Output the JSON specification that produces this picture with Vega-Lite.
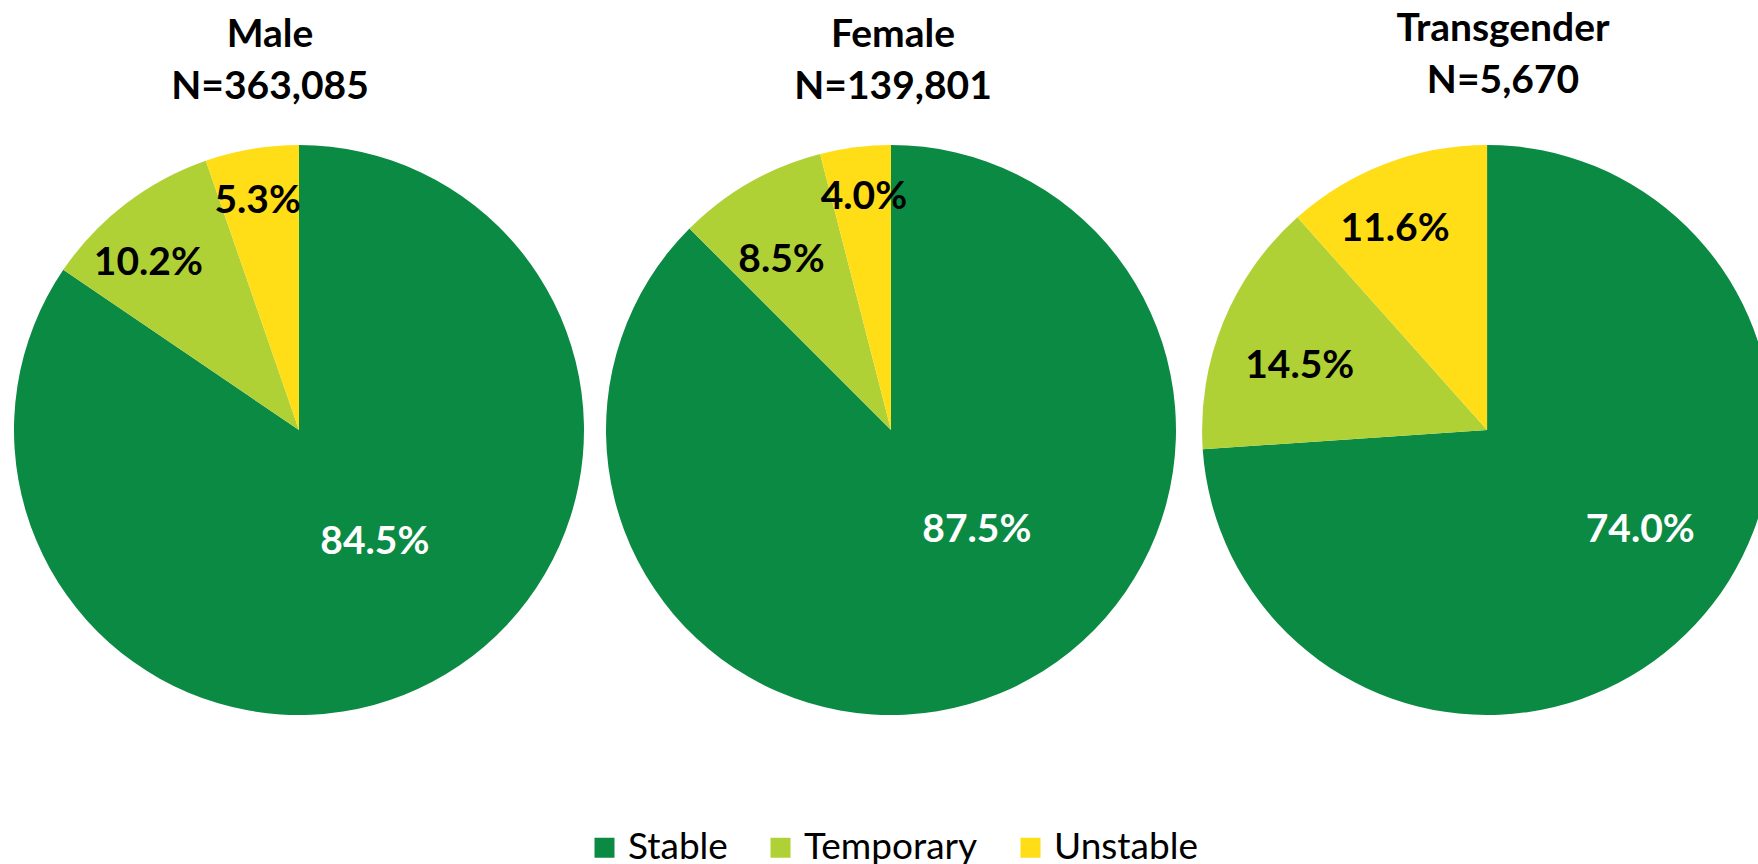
{
  "$schema": "https://vega.github.io/schema/vega-lite/v6.json",
  "background": "white",
  "padding": {"top": 10, "left": 0, "right": 0, "bottom": 0},
  "data": {"values": [
    {"gender": "Male", "status": "Stable", "share": 0.845},
    {"gender": "Male", "status": "Temporary", "share": 0.102},
    {"gender": "Male", "status": "Unstable", "share": 0.053},
    {"gender": "Female", "status": "Stable", "share": 0.875},
    {"gender": "Female", "status": "Temporary", "share": 0.085},
    {"gender": "Female", "status": "Unstable", "share": 0.040},
    {"gender": "Transgender", "status": "Stable", "share": 0.740},
    {"gender": "Transgender", "status": "Temporary", "share": 0.145},
    {"gender": "Transgender", "status": "Unstable", "share": 0.116}
  ]},
  "spacing": 0,
  "resolve": {"scale": {"color": "shared"}},
  "hconcat": [
    {
      "width": 598, "height": 570,
      "title": {"text": ["Male", "N=363,085"], "dx": -29},
      "transform": [{"filter": "datum.gender === 'Male'"}],
      "encoding": {
        "theta": {"field": "share", "type": "quantitative", "stack": true},
        "order": {"field": "status", "type": "ordinal", "sort": "ascending"}
      },
      "layer": [
        {"mark": {"type": "arc", "outerRadius": 285},
         "encoding": {"color": {"field": "status", "type": "nominal",
           "scale": {"domain": ["Stable", "Temporary", "Unstable"], "range": ["#0B8A44", "#B0D136", "#FFDD17"]},
           "legend": {"orient": "none", "legendX": 586, "legendY": 684, "direction": "horizontal", "title": null, "symbolType": "square", "symbolSize": 400, "symbolStrokeWidth": 0, "labelFontSize": 37, "labelFont": "Lato", "labelColor": "black", "labelOffset": 5, "columnPadding": 34, "labelLimit": 0}}}},
        {"mark": {"type": "text", "radius": 135, "thetaOffset": -0.11, "color": "white"},
         "encoding": {"detail": {"field": "status"}, "text": {"condition": {"test": "datum.status === 'Stable'", "field": "share", "type": "quantitative", "format": ".1%"}, "value": ""}}},
        {"mark": {"type": "text", "radius": 225, "thetaOffset": -0.08, "color": "black"},
         "encoding": {"detail": {"field": "status"}, "text": {"condition": {"test": "datum.status === 'Temporary'", "field": "share", "type": "quantitative", "format": ".1%"}, "value": ""}}},
        {"mark": {"type": "text", "radius": 233, "thetaOffset": -0.012, "color": "black"},
         "encoding": {"detail": {"field": "status"}, "text": {"condition": {"test": "datum.status === 'Unstable'", "field": "share", "type": "quantitative", "format": ".1%"}, "value": ""}}}
      ]
    },
    {
      "width": 586, "height": 570,
      "title": {"text": ["Female", "N=139,801"], "dx": 2},
      "transform": [{"filter": "datum.gender === 'Female'"}],
      "encoding": {
        "theta": {"field": "share", "type": "quantitative", "stack": true},
        "order": {"field": "status", "type": "ordinal", "sort": "ascending"}
      },
      "layer": [
        {"mark": {"type": "arc", "outerRadius": 285},
         "encoding": {"color": {"field": "status", "type": "nominal"}}},
        {"mark": {"type": "text", "radius": 132, "thetaOffset": -0.316, "color": "white"},
         "encoding": {"detail": {"field": "status"}, "text": {"condition": {"test": "datum.status === 'Stable'", "field": "share", "type": "quantitative", "format": ".1%"}, "value": ""}}},
        {"mark": {"type": "text", "radius": 202, "thetaOffset": -0.054, "color": "black"},
         "encoding": {"detail": {"field": "status"}, "text": {"condition": {"test": "datum.status === 'Temporary'", "field": "share", "type": "quantitative", "format": ".1%"}, "value": ""}}},
        {"mark": {"type": "text", "radius": 235, "thetaOffset": 0.01, "color": "black"},
         "encoding": {"detail": {"field": "status"}, "text": {"condition": {"test": "datum.status === 'Unstable'", "field": "share", "type": "quantitative", "format": ".1%"}, "value": ""}}}
      ]
    },
    {
      "width": 574, "height": 570,
      "title": {"text": ["Transgender", "N=5,670"], "dx": 32, "dy": -6},
      "transform": [{"filter": "datum.gender === 'Transgender'"}],
      "encoding": {
        "x": {"field": "gender", "type": "nominal", "scale": {"type": "point", "padding": 0.5, "align": 0.528}, "axis": null},
        "theta": {"field": "share", "type": "quantitative", "stack": true},
        "order": {"field": "status", "type": "ordinal", "sort": "ascending"}
      },
      "layer": [
        {"mark": {"type": "arc", "outerRadius": 285, "clip": true},
         "encoding": {"color": {"field": "status", "type": "nominal"}}},
        {"mark": {"type": "text", "radius": 183, "thetaOffset": -0.173, "color": "white"},
         "encoding": {"detail": {"field": "status"}, "text": {"condition": {"test": "datum.status === 'Stable'", "field": "share", "type": "quantitative", "format": ".1%"}, "value": ""}}},
        {"mark": {"type": "text", "radius": 198, "thetaOffset": -0.058, "color": "black"},
         "encoding": {"detail": {"field": "status"}, "text": {"condition": {"test": "datum.status === 'Temporary'", "field": "share", "type": "quantitative", "format": ".1%"}, "value": ""}}},
        {"mark": {"type": "text", "radius": 221, "thetaOffset": -0.065, "color": "black"},
         "encoding": {"detail": {"field": "status"}, "text": {"condition": {"test": "datum.status === 'Unstable'", "field": "share", "type": "quantitative", "format": ".1%"}, "value": ""}}}
      ]
    }
  ],
  "config": {
    "view": {"stroke": null},
    "font": "Lato",
    "title": {"font": "Lato", "fontSize": 39, "fontWeight": "bold", "lineHeight": 52, "color": "black", "offset": 38, "anchor": "middle"},
    "text": {"font": "Lato", "fontSize": 39, "fontWeight": "bold"},
    "arc": {"stroke": null}
  }
}
